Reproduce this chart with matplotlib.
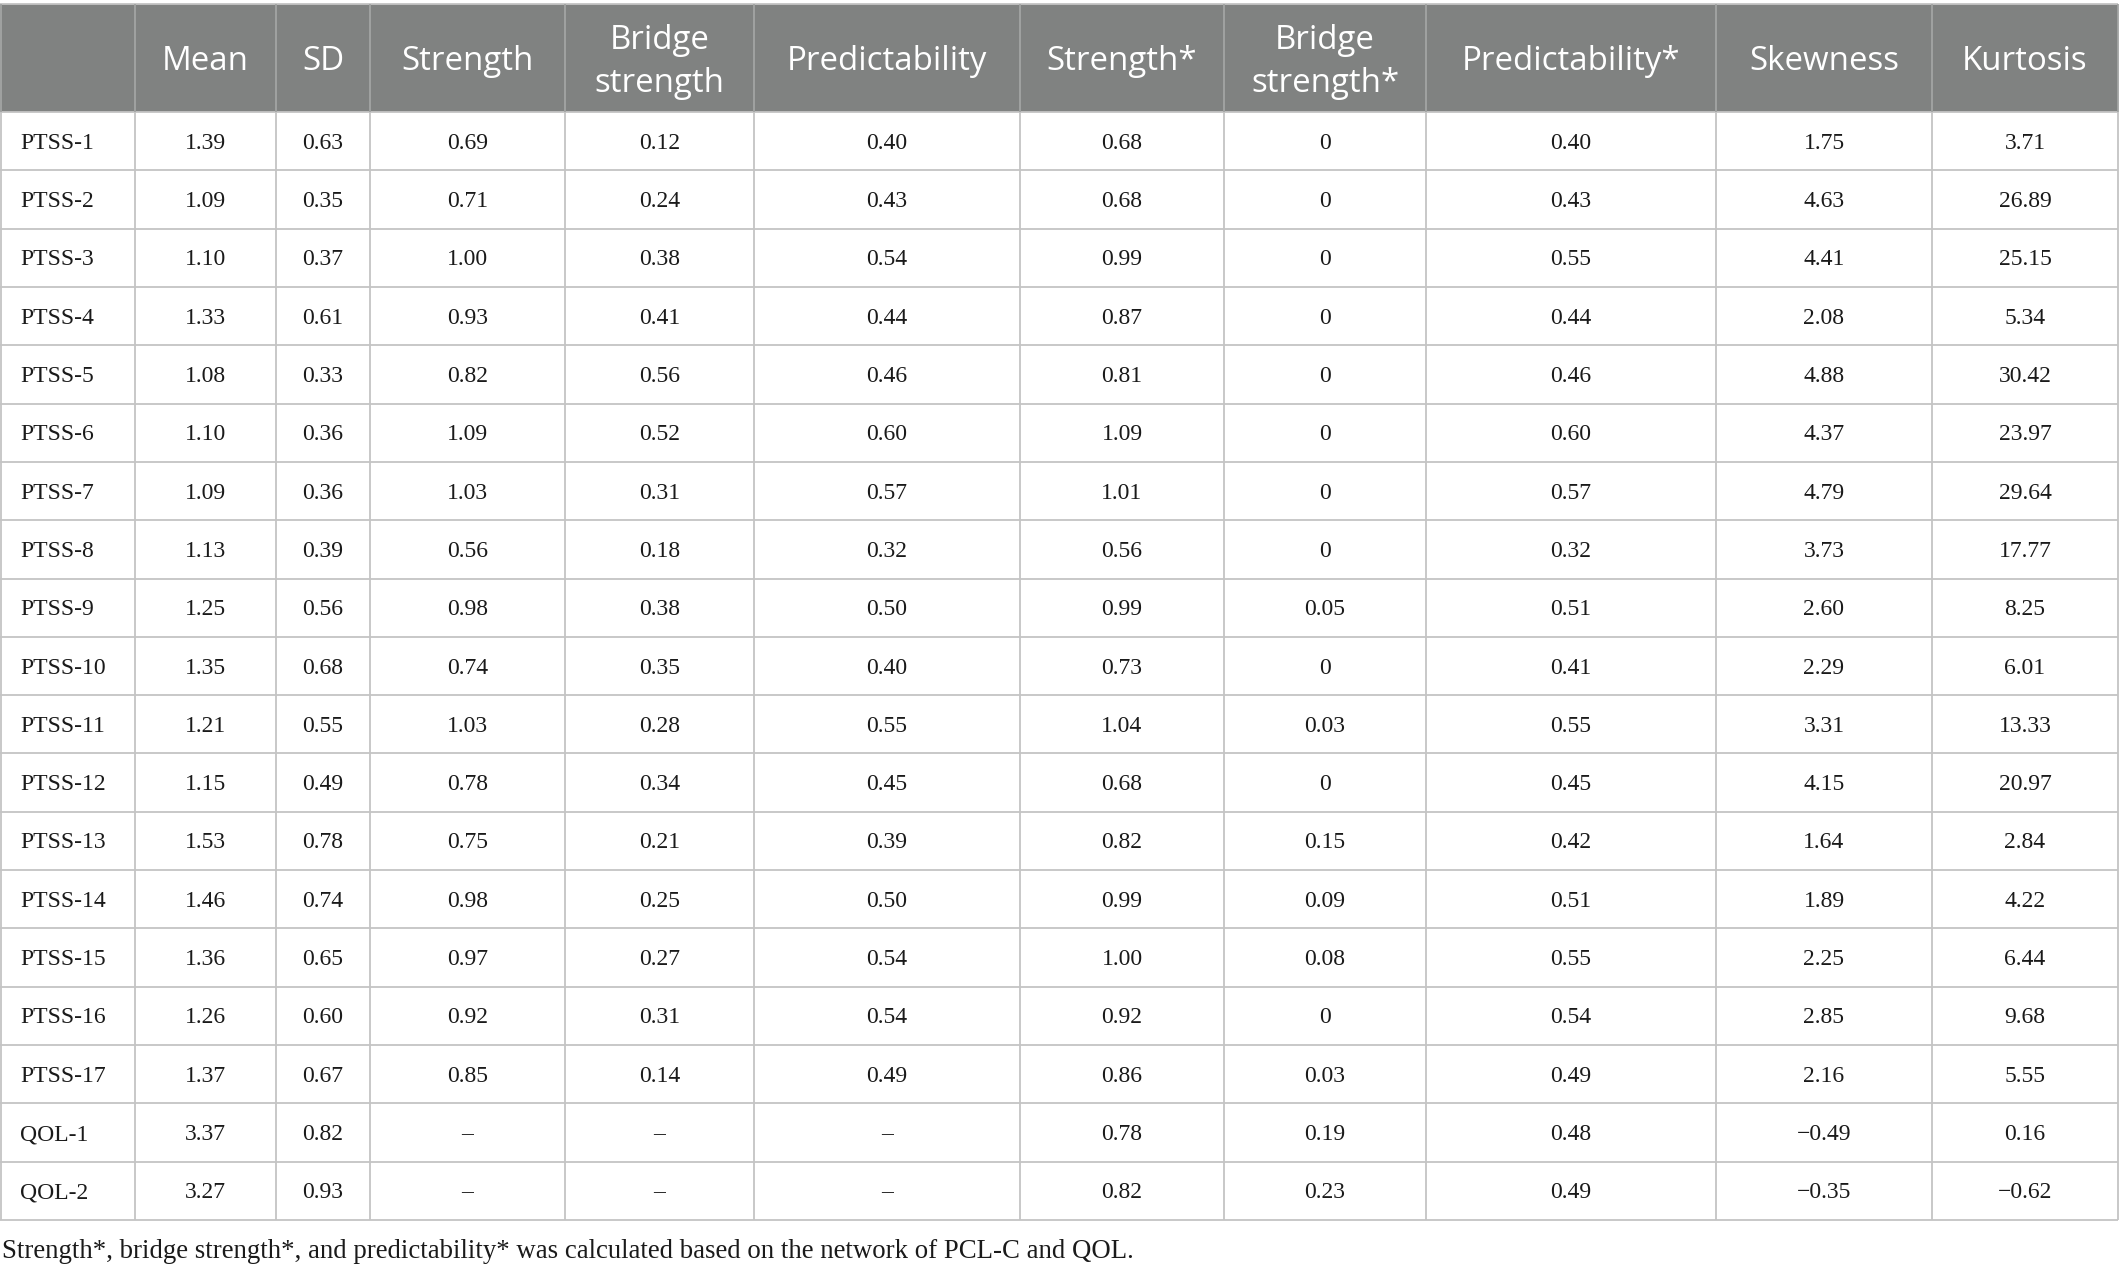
import matplotlib
matplotlib.use("Agg")
import matplotlib.pyplot as plt
from matplotlib.patches import Rectangle

# ---------------- data ----------------
headers = ["", "Mean", "SD", "Strength", "Bridge\nstrength", "Predictability",
           "Strength*", "Bridge\nstrength*", "Predictability*", "Skewness", "Kurtosis"]

items = ["PTSS-1", "PTSS-2", "PTSS-3", "PTSS-4", "PTSS-5", "PTSS-6", "PTSS-7",
         "PTSS-8", "PTSS-9", "PTSS-10", "PTSS-11", "PTSS-12", "PTSS-13", "PTSS-14",
         "PTSS-15", "PTSS-16", "PTSS-17", "QOL-1", "QOL-2"]

mean = [1.39, 1.09, 1.10, 1.33, 1.08, 1.10, 1.09, 1.13, 1.25, 1.35, 1.21, 1.15,
        1.53, 1.46, 1.36, 1.26, 1.37, 3.37, 3.27]
sd = [0.63, 0.35, 0.37, 0.61, 0.33, 0.36, 0.36, 0.39, 0.56, 0.68, 0.55, 0.49,
      0.78, 0.74, 0.65, 0.60, 0.67, 0.82, 0.93]
strength = [0.69, 0.71, 1.00, 0.93, 0.82, 1.09, 1.03, 0.56, 0.98, 0.74, 1.03, 0.78,
            0.75, 0.98, 0.97, 0.92, 0.85, None, None]
bridge = [0.12, 0.24, 0.38, 0.41, 0.56, 0.52, 0.31, 0.18, 0.38, 0.35, 0.28, 0.34,
          0.21, 0.25, 0.27, 0.31, 0.14, None, None]
predict = [0.40, 0.43, 0.54, 0.44, 0.46, 0.60, 0.57, 0.32, 0.50, 0.40, 0.55, 0.45,
           0.39, 0.50, 0.54, 0.54, 0.49, None, None]
strength_s = [0.68, 0.68, 0.99, 0.87, 0.81, 1.09, 1.01, 0.56, 0.99, 0.73, 1.04, 0.68,
              0.82, 0.99, 1.00, 0.92, 0.86, 0.78, 0.82]
bridge_s = [0, 0, 0, 0, 0, 0, 0, 0, 0.05, 0, 0.03, 0, 0.15, 0.09, 0.08, 0, 0.03,
            0.19, 0.23]
predict_s = [0.40, 0.43, 0.55, 0.44, 0.46, 0.60, 0.57, 0.32, 0.51, 0.41, 0.55, 0.45,
             0.42, 0.51, 0.55, 0.54, 0.49, 0.48, 0.49]
skewness = [1.75, 4.63, 4.41, 2.08, 4.88, 4.37, 4.79, 3.73, 2.60, 2.29, 3.31, 4.15,
            1.64, 1.89, 2.25, 2.85, 2.16, -0.49, -0.35]
kurtosis = [3.71, 26.89, 25.15, 5.34, 30.42, 23.97, 29.64, 17.77, 8.25, 6.01, 13.33,
            20.97, 2.84, 4.22, 6.44, 9.68, 5.55, 0.16, -0.62]

footnote = ("Strength*, bridge strength*, and predictability* was calculated "
            "based on the network of PCL-C and QOL.")

columns = [mean, sd, strength, bridge, predict, strength_s, bridge_s, predict_s,
           skewness, kurtosis]


def fmt(v):
    if v is None:
        return "\u2013"
    if v == 0:
        return "0"
    s = f"{v:.2f}"
    return s.replace("-", "\u2212")


# ---------------- layout ----------------
W, H = 2119, 1275
col_edges = [0, 135, 276, 370, 565, 754, 1020, 1224, 1426, 1716, 1932, 2118]
top = 4
head_bot = 112
tab_bot = 1220
n = len(items)
row_h = (tab_bot - head_bot) / n

header_bg = "#808281"
grid_col = "#c4c4c4"
head_line = "#a3a5a4"
text_col = "#1a1a1a"

fig = plt.figure(figsize=(W / 100, H / 100), dpi=100)
ax = fig.add_axes([0, 0, 1, 1])
ax.set_xlim(0, W)
ax.set_ylim(H, 0)
ax.axis("off")

# header background
ax.add_patch(Rectangle((col_edges[0], top), col_edges[-1] - col_edges[0],
                       head_bot - top, facecolor=header_bg, edgecolor="none"))

# horizontal lines
ax.hlines([top], col_edges[0], col_edges[-1], colors=grid_col, linewidth=1.3)
ys = [head_bot + i * row_h for i in range(n + 1)]
ax.hlines(ys, col_edges[0], col_edges[-1], colors=grid_col, linewidth=1.3)

# vertical lines
for x in col_edges:
    xx = min(max(x, 0.7), W - 0.7)
    ax.vlines(xx, top, head_bot, colors=head_line, linewidth=1.3)
    ax.vlines(xx, head_bot, tab_bot, colors=grid_col, linewidth=1.3)

# header text
for j, h in enumerate(headers):
    if not h:
        continue
    cx = (col_edges[j] + col_edges[j + 1]) / 2
    ax.text(cx, (top + head_bot) / 2 + 4, h, ha="center", va="center",
            color="white", fontsize=23.8, family="Open Sans", linespacing=1.38)

# body text
for i, name in enumerate(items):
    cy = head_bot + (i + 0.5) * row_h + 2
    ax.text(20, cy, name, ha="left", va="center", color=text_col,
            fontsize=17, family="Liberation Serif")
    for j, col in enumerate(columns):
        cx = (col_edges[j + 1] + col_edges[j + 2]) / 2
        ax.text(cx, cy, fmt(col[i]), ha="center", va="center", color=text_col,
                fontsize=17, family="Liberation Serif")

ax.text(2, 1252, footnote, ha="left", va="center", color=text_col,
        fontsize=19.3, family="Liberation Serif")

fig.savefig("out.png", dpi=100, facecolor="white")
